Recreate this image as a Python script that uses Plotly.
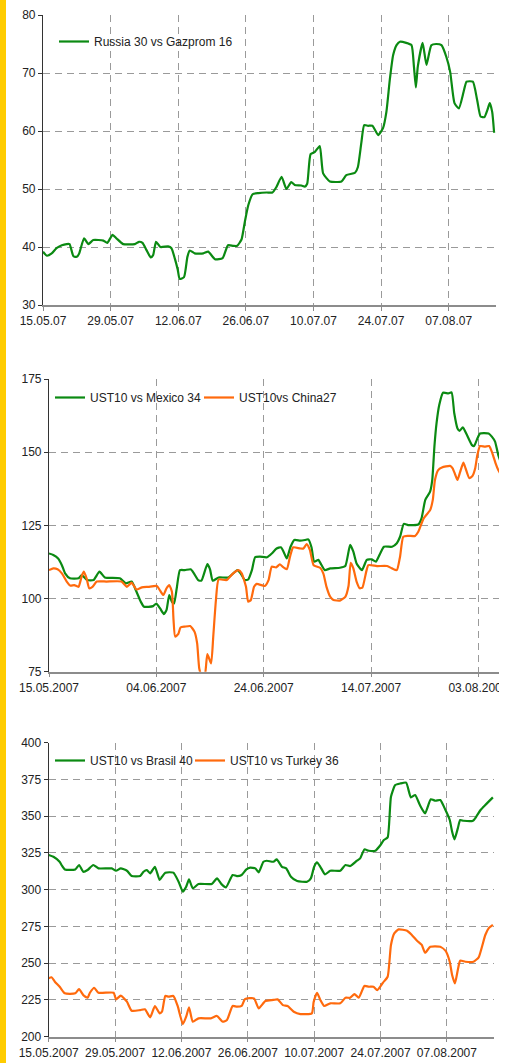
import numpy as np
import pandas as pd
import plotly.graph_objects as go

START = "2007-05-15"

# ---------------- Panel 1: Russia 30 vs Gazprom 16 ----------------
ru_days = [0, 0.8, 1.8, 2.8, 3.9, 4.9, 5.5, 6.3, 7.0, 7.5, 8.5, 9.4, 10.4, 12.5, 13.3,
           14.4, 15.2, 16.6, 19.0, 19.9, 20.6, 21.4, 22.3, 22.8, 23.4, 24.3, 25.9, 26.6,
           27.3, 27.9, 28.3, 29.2, 29.9, 30.4, 31.4, 33.2, 34.2, 35.6, 37.2, 38.3, 39.4,
           40.2, 41.1, 41.8, 42.5, 43.4, 44.6, 46.3, 47.5, 48.3, 49.4, 50.4, 51.4, 52.1,
           53.5, 54.2, 54.7, 55.4, 56.3, 57.3, 58.0, 59.4, 61.8, 62.8, 64.6, 65.2, 65.9,
           66.5, 67.3, 68.2, 69.4, 70.4, 71.1, 71.8, 72.5, 73.2, 73.9, 75.2, 76.3, 76.8,
           77.2, 77.6, 78.6, 79.4, 80.4, 81.4, 82.5, 83.5, 84.3, 85.2, 86.1, 87.1, 87.7,
           89.0, 89.9, 90.6, 91.4, 92.0, 92.5, 93.0, 93.4]
ru_vals = [39.2, 38.5, 38.9, 39.8, 40.3, 40.5, 40.5, 38.4, 38.3, 38.9, 41.5, 40.5, 41.2,
           41.1, 40.7, 42.1, 41.5, 40.5, 40.5, 40.9, 40.7, 39.5, 38.2, 38.6, 40.9, 40.0,
           40.1, 39.8, 38.0, 36.1, 34.5, 34.8, 38.3, 39.4, 38.9, 38.9, 39.2, 37.9, 38.1,
           40.3, 40.2, 40.2, 41.3, 44.4, 47.2, 49.1, 49.3, 49.4, 49.4, 50.3, 52.1, 50.0,
           51.2, 50.7, 50.6, 50.4, 50.9, 56.0, 56.4, 57.4, 52.7, 51.3, 51.3, 52.4, 52.8,
           53.8, 57.9, 61.0, 60.9, 60.9, 59.3, 60.5, 63.3, 68.8, 73.1, 74.8, 75.4, 75.2,
           74.8, 71.1, 67.5, 71.1, 75.2, 71.4, 74.8, 75.0, 74.8, 72.8, 70.2, 64.8, 63.9,
           66.8, 68.5, 68.5, 65.3, 62.5, 62.4, 63.6, 64.8, 63.3, 59.7]

# ---------------- Panel 2: UST10 vs Mexico 34 / China27 ----------------
mx_days = [0, 0.8, 1.7, 2.4, 3.0, 3.9, 5.5, 6.1, 7.1, 8.3, 9.4, 10.4, 13.2, 14.3, 15.4,
           16.3, 17.1, 17.7, 19.4, 20.0, 20.7, 21.4, 21.9, 22.4, 22.9, 23.3, 23.8, 24.4,
           25.3, 26.4, 27.0, 27.8, 28.4, 29.5, 30.0, 30.5, 31.6, 33.4, 35.1, 35.7, 36.5,
           37.1, 37.8, 38.4, 39.3, 40.6, 41.5, 42.4, 43.2, 43.7, 44.3, 45.0, 45.7, 46.8,
           47.7, 48.3, 48.9, 49.4, 50.2, 50.6, 51.4, 52.4, 54.2, 55.2, 56.1, 56.7, 57.3,
           58.3, 59.2, 60.1, 60.9, 61.7, 62.4, 63.9, 64.8, 65.4, 66.1, 66.9, 68.8, 69.4,
           70.1, 71.0, 71.4, 71.8, 72.2, 72.7, 73.4, 74.4, 75.0, 75.5, 76.1, 76.5, 77.1,
           77.8, 78.8, 79.2, 79.7, 80.3, 81.9, 82.5, 83.1, 83.7, 84.3]
mx_vals = [115.4, 114.9, 113.7, 111.4, 108.6, 106.9, 106.9, 108.0, 106.3, 106.3, 109.2,
           107.2, 106.9, 105.2, 105.8, 102.3, 98.9, 97.2, 97.4, 98.3, 96.6, 94.7, 96.1,
           101.2, 98.9, 98.3, 103.5, 109.7, 109.7, 110.0, 108.6, 106.3, 106.1, 111.8,
           110.0, 106.1, 107.2, 107.2, 109.7, 108.6, 106.3, 106.5, 109.7, 114.1, 114.3,
           114.1, 115.4, 117.1, 117.5, 116.0, 113.7, 117.7, 120.0, 119.8, 120.0, 120.2,
           117.5, 112.6, 113.2, 112.0, 109.7, 110.3, 110.5, 111.1, 118.3, 116.0, 112.0,
           109.7, 113.2, 113.4, 112.6, 115.4, 117.7, 117.7, 118.9, 121.1, 125.5, 125.1,
           125.3, 127.4, 133.7, 136.5, 140.5, 151.9, 159.9, 166.1, 170.3, 170.1, 170.4,
           163.3, 158.1, 157.3, 158.5, 156.1, 152.4, 152.1, 154.2, 156.4, 156.4, 155.3,
           153.6, 149.0, 146.0]

cn_days = [0, 0.8, 1.6, 2.4, 3.3, 4.0, 4.7, 5.5, 6.1, 6.5, 7.0, 7.5, 8.1, 8.9, 10.7, 13.5,
           14.5, 15.4, 16.3, 17.3, 18.5, 20.1, 20.7, 21.3, 21.9, 22.4, 22.9, 23.2, 23.5,
           24.1, 24.5, 25.3, 26.3, 27.1, 27.6, 28.0, 28.5, 29.0, 29.5, 30.2, 30.6, 31.1,
           31.6, 33.1, 34.3, 35.3, 35.9, 36.7, 37.1, 37.6, 38.2, 38.7, 40.2, 40.9, 41.5,
           42.3, 43.0, 43.5, 44.3, 44.9, 45.5, 46.8, 47.4, 48.0, 48.6, 49.3, 50.5, 51.1,
           51.7, 52.4, 53.0, 54.2, 55.2, 55.8, 56.2, 56.7, 57.3, 57.9, 58.4, 59.1, 59.5,
           61.1, 63.0, 63.9, 64.8, 65.4, 66.0, 66.9, 68.2, 68.8, 69.8, 71.0, 71.5, 71.9,
           72.5, 73.2, 74.7, 75.2, 75.7, 76.1, 76.6, 77.2, 77.6, 78.3, 78.9, 79.4, 79.8,
           80.3, 81.2, 82.0, 82.6, 83.2, 83.7, 84.3]
cn_vals = [109.7, 110.3, 110.0, 108.6, 105.8, 104.4, 104.6, 104.0, 107.7, 109.2, 106.9,
           103.5, 104.0, 105.8, 105.8, 105.8, 104.0, 105.4, 103.1, 103.8, 104.0, 104.3,
           102.7, 101.2, 103.5, 104.6, 102.3, 92.7, 87.0, 87.9, 90.1, 90.4, 90.6, 88.7,
           84.7, 76.0, 73.5, 73.5, 81.0, 77.8, 87.0, 99.5, 106.5, 106.3, 108.6, 109.7,
           108.6, 104.0, 98.9, 99.5, 104.0, 105.0, 104.3, 106.3, 110.9, 110.6, 111.7,
           110.9, 110.0, 114.3, 117.5, 117.1, 117.1, 118.6, 116.6, 111.4, 110.5, 108.6,
           104.0, 100.6, 99.5, 99.3, 100.6, 104.3, 112.2, 110.3, 105.8, 103.5, 103.8,
           109.2, 111.4, 111.1, 111.1, 110.3, 109.7, 114.3, 121.1, 121.4, 121.4, 122.8,
           127.4, 130.2, 133.7, 140.5, 143.9, 144.8, 145.3, 144.5, 142.2, 140.5, 143.3,
           146.4, 144.5, 141.1, 141.9, 144.5, 149.0, 152.1, 151.9, 152.1, 149.6, 146.2,
           143.9, 142.0]

# ---------------- Panel 3: UST10 vs Brasil 40 / Turkey 36 ----------------
br_days = [0, 1.0, 2.3, 2.7, 3.4, 5.6, 6.4, 7.3, 8.2, 9.4, 10.5, 13.3, 14.2, 15.2, 16.5,
           17.5, 19.3, 20.0, 20.7, 21.4, 22.4, 23.4, 23.9, 24.6, 26.3, 27.4, 28.3, 29.0,
           29.6, 30.4, 31.6, 34.4, 35.5, 36.5, 37.4, 38.8, 39.7, 40.7, 41.7, 42.5, 43.6,
           44.3, 45.3, 46.0, 47.4, 48.1, 49.2, 50.1, 51.1, 52.4, 54.5, 55.3, 56.0, 56.6,
           57.3, 58.3, 59.4, 61.5, 62.6, 63.6, 65.0, 65.7, 66.6, 67.5, 68.9, 70.0, 70.7,
           71.5, 72.2, 73.1, 74.2, 75.4, 76.4, 77.3, 78.3, 79.4, 80.6, 81.6, 82.6, 83.7,
           84.6, 85.1, 85.6, 86.3, 86.8, 87.5, 89.5, 90.2, 91.1, 92.1, 93.7]
br_vals = [323.6, 322.4, 319.0, 316.8, 313.8, 313.8, 316.8, 312.2, 313.4, 316.8, 314.5,
           314.5, 312.9, 314.5, 312.9, 309.3, 309.3, 312.2, 313.4, 311.1, 315.6, 306.6,
           308.8, 311.6, 311.6, 305.4, 298.6, 302.0, 307.0, 300.9, 303.9, 303.9, 307.7,
           303.6, 301.6, 310.0, 309.3, 310.0, 313.8, 315.0, 314.5, 311.8, 319.0, 319.7,
           319.0, 320.6, 315.6, 314.5, 308.8, 305.9, 305.4, 307.7, 315.6, 318.6, 315.6,
           310.4, 312.9, 312.9, 316.8, 316.1, 319.7, 321.3, 327.4, 326.5, 326.5, 330.4,
           333.8, 335.6, 363.3, 371.2, 372.3, 372.8, 362.8, 364.4, 357.6, 351.9, 361.5,
           360.5, 361.0, 354.2, 347.4, 339.5, 334.2, 341.7, 347.4, 346.9, 346.9, 349.7,
           354.2, 357.6, 362.8]

tr_days = [0, 0.6, 1.3, 2.4, 3.4, 5.6, 6.4, 7.3, 8.2, 8.7, 9.6, 10.5, 13.7, 14.2, 15.2,
           16.5, 17.5, 19.3, 20.3, 21.4, 22.4, 23.4, 23.9, 24.6, 25.3, 26.3, 27.2, 28.3,
           29.0, 29.6, 30.4, 31.6, 34.2, 35.5, 36.7, 37.6, 38.8, 39.7, 40.7, 41.4, 43.3,
           44.3, 45.7, 47.4, 48.3, 49.4, 50.4, 51.7, 53.1, 55.5, 55.9, 56.6, 57.3, 58.1,
           59.4, 61.5, 62.6, 63.6, 64.5, 65.4, 66.6, 67.5, 68.5, 69.3, 70.5, 71.5, 72.2,
           72.9, 73.8, 75.6, 76.6, 77.7, 78.7, 79.4, 80.5, 82.6, 83.7, 84.6, 85.1, 85.7,
           86.3, 86.8, 87.9, 89.6, 90.7, 91.4, 92.1, 92.8, 93.7]
tr_vals = [239.7, 240.4, 237.4, 233.6, 229.5, 229.5, 232.4, 228.3, 226.5, 229.9, 233.3,
           229.9, 229.9, 225.4, 227.9, 223.8, 217.7, 218.1, 218.6, 213.2, 220.9, 215.9,
           217.0, 227.7, 227.2, 227.7, 220.9, 208.6, 213.6, 220.0, 210.2, 212.5, 212.5,
           214.1, 210.2, 211.3, 220.9, 220.4, 220.9, 225.6, 226.1, 219.3, 224.3, 225.0,
           225.4, 221.5, 220.9, 217.0, 215.4, 215.9, 223.8, 229.9, 225.0, 220.9, 222.7,
           222.7, 226.5, 226.5, 229.0, 226.5, 234.5, 234.0, 234.0, 231.7, 236.7, 240.8,
           262.4, 270.3, 273.0, 272.1, 269.2, 265.3, 262.4, 257.1, 261.2, 261.2, 258.5,
           251.0, 242.0, 236.3, 245.4, 251.7, 251.0, 251.0, 254.0, 261.2, 269.2, 273.7,
           276.0]

GREEN = "#0b8a12"
ORANGE = "#ff6a0d"
FONT = "Liberation Sans, Arial, sans-serif"
TXT = "#222222"
GRID = "#9a9a9a"
W, H = 512, 1063


def to_dates(days):
    return pd.Timestamp(START) + pd.to_timedelta(np.array(days, dtype=float), unit="D")


fig = go.Figure()

LINE = dict(width=2.2, shape="spline", smoothing=0.5)
fig.add_trace(go.Scatter(x=to_dates(ru_days), y=ru_vals, mode="lines", name="Russia 30 vs Gazprom 16",
                         line=dict(color=GREEN, **LINE), xaxis="x", yaxis="y", legend="legend"))
fig.add_trace(go.Scatter(x=to_dates(mx_days), y=mx_vals, mode="lines", name="UST10 vs Mexico 34",
                         line=dict(color=GREEN, **LINE), xaxis="x2", yaxis="y2", legend="legend2"))
fig.add_trace(go.Scatter(x=to_dates(cn_days), y=cn_vals, mode="lines", name="UST10vs China27",
                         line=dict(color=ORANGE, **LINE), xaxis="x2", yaxis="y2", legend="legend3"))
fig.add_trace(go.Scatter(x=to_dates(br_days), y=br_vals, mode="lines", name="UST10 vs Brasil 40",
                         line=dict(color=GREEN, **LINE), xaxis="x3", yaxis="y3", legend="legend4"))
fig.add_trace(go.Scatter(x=to_dates(tr_days), y=tr_vals, mode="lines", name="UST10 vs Turkey 36",
                         line=dict(color=ORANGE, **LINE), xaxis="x3", yaxis="y3", legend="legend5"))


def px_x(p):
    return p / W


def px_y(p):
    return 1 - p / H


def xax(domain, rng, dtick_days, fmt):
    return dict(domain=domain, range=rng, type="date", tick0=START,
                dtick=dtick_days * 86400000, tickformat=fmt, tickangle=0,
                showgrid=True, gridcolor=GRID, griddash="7px,5px", gridwidth=1,
                showline=True, linecolor="#8c8c8c", linewidth=1.5,
                ticks="outside", ticklen=4, tickcolor="#8c8c8c",
                tickfont=dict(family=FONT, size=12, color=TXT), zeroline=False,
                automargin=False, fixedrange=True)


def yax(domain, rng, dtick, anchor):
    return dict(domain=domain, range=rng, dtick=dtick, tick0=0, anchor=anchor,
                showgrid=True, gridcolor=GRID, griddash="7px,5px", gridwidth=1,
                showline=True, linecolor="#333333", linewidth=1.2,
                ticks="outside", ticklen=4, tickcolor="#333333",
                tickfont=dict(family=FONT, size=12, color=TXT), zeroline=False,
                automargin=False, fixedrange=True)


def leg(xp, yp):
    return dict(x=px_x(xp), y=px_y(yp), xanchor="left", yanchor="top", orientation="v",
                bgcolor="rgba(0,0,0,0)", font=dict(family=FONT, size=12, color=TXT))


fig.update_layout(
    width=W, height=H,
    margin=dict(l=0, r=0, t=0, b=0, pad=0, autoexpand=False),
    paper_bgcolor="white", plot_bgcolor="white",
    font=dict(family=FONT, size=12, color=TXT),
    xaxis=dict(**xax([px_x(43), px_x(496)], ["2007-05-15", "2007-08-16 19:00"], 14, "%d.%m.%y"), anchor="y"),
    yaxis=yax([px_y(305), px_y(15)], [30, 80], 10, "x"),
    xaxis2=dict(**xax([px_x(49), px_x(499)], ["2007-05-15", "2007-08-06 20:00"], 20, "%d.%m.%Y"), anchor="y2"),
    yaxis2=yax([px_y(671.7), px_y(379)], [75, 175], 25, "x2"),
    xaxis3=dict(**xax([px_x(48.7), px_x(494.3)], ["2007-05-15", "2007-08-17"], 14, "%d.%m.%Y"), anchor="y3"),
    yaxis3=yax([px_y(1036.7), px_y(742.7)], [200, 400], 25, "x3"),
    legend=leg(54, 27),
    legend2=leg(50, 383),
    legend3=leg(199, 383),
    legend4=leg(50, 746),
    legend5=leg(190, 746),
    shapes=[
        dict(type="rect", xref="paper", yref="paper", x0=0, x1=px_x(6), y0=0, y1=1,
             fillcolor="#ffcc00", line=dict(width=0), layer="below"),
        dict(type="rect", xref="paper", yref="paper", x0=px_x(499), x1=1,
             y0=px_y(700), y1=px_y(673), fillcolor="white", line=dict(width=0), layer="above"),
    ],
    showlegend=True,
)

fig.write_html("out.html", config={"displayModeBar": False},
               post_script="document.body.style.margin='0';")
